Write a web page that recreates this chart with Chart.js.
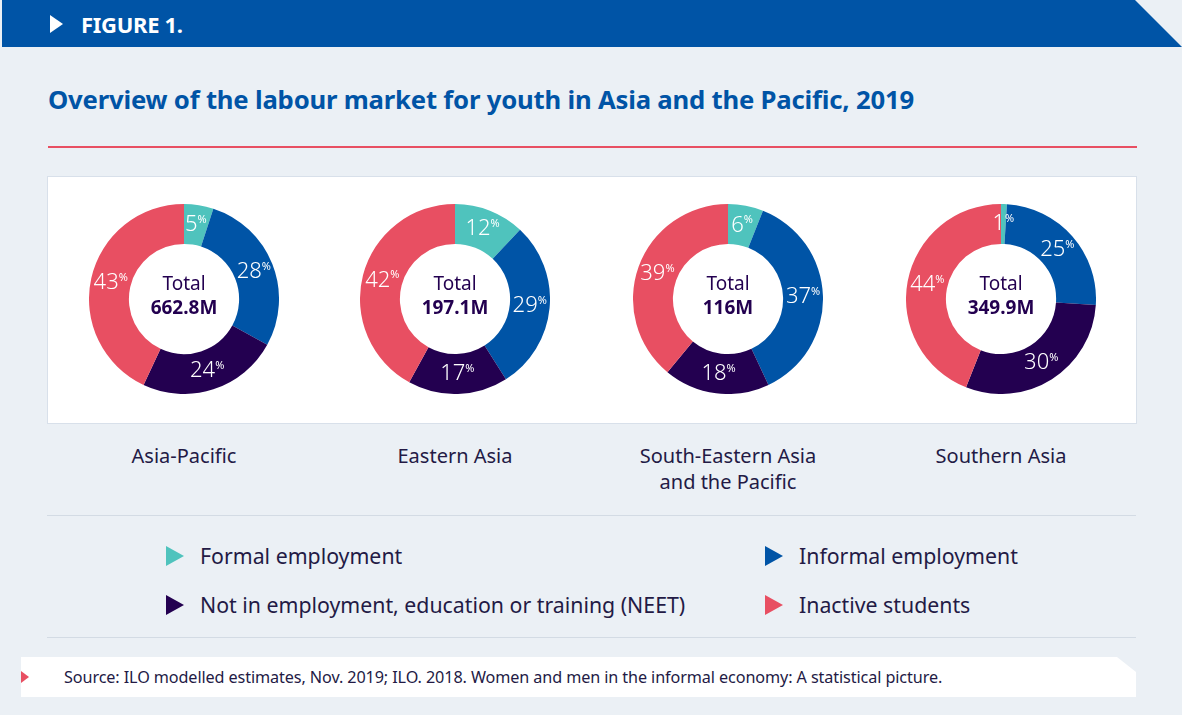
<!DOCTYPE html>
<html lang="en">
<head>
<meta charset="UTF-8">
<title>Overview of the labour market for youth in Asia and the Pacific, 2019</title>
<script src="https://cdn.jsdelivr.net/npm/chart.js"></script>
<style>
  body { margin: 0; width: 1182px; height: 715px; background: #ebf0f5; font-family: "Noto Sans", "Open Sans", sans-serif; position: relative; overflow: hidden; }
  .bar { position: absolute; left: 2px; top: 0; width: 1180px; height: 47px; background: #0054a6; clip-path: polygon(0 0, 1133px 0, 1180px 47px, 0 47px); }
  .bar .tri { position: absolute; left: 48px; top: 15px; width: 0; height: 0; border-top: 9px solid transparent; border-bottom: 9px solid transparent; border-left: 13px solid #fff; }
  .bar .txt { position: absolute; left: 79px; top: 9px; color: #fff; font-weight: bold; font-size: 22px; letter-spacing: -0.3px; }
  h1 { position: absolute; left: 48px; top: 82px; margin: 0; font-size: 25.7px; color: #0054a6; font-weight: bold; letter-spacing: -0.2px; }
  .redline { position: absolute; left: 48px; top: 146px; width: 1089px; height: 2px; background: #e84f62; }
  .box { position: absolute; left: 47px; top: 176px; width: 1088px; height: 246px; background: #fff; border: 1px solid #d8e0ea; }
  .ch { position: absolute; top: 204px; width: 190px; height: 190px; }
  .region { position: absolute; top: 443px; width: 260px; text-align: center; font-size: 20px; color: #231a45; line-height: 26px; }
  .sep { position: absolute; left: 47px; width: 1089px; height: 1px; background: #d3dbe4; }
  .leg { position: absolute; font-size: 21.3px; color: #231a45; }
  .leg i { position: absolute; left: -34px; top: 5px; width: 0; height: 0; border-top: 10px solid transparent; border-bottom: 10px solid transparent; border-left: 18px solid; }
  .src { position: absolute; left: 21px; top: 657px; width: 1115px; height: 40px; background: #fff; clip-path: polygon(0 0, 1096px 0, 1115px 15px, 1115px 40px, 0 40px); }
  .src i { position: absolute; left: 0; top: 14px; width: 0; height: 0; border-top: 6px solid transparent; border-bottom: 6px solid transparent; border-left: 8px solid #e84f62; }
  .src span { position: absolute; left: 43px; top: 9px; font-size: 16.2px; color: #231a45; letter-spacing: -0.1px; }
</style>
</head>
<body>
<div class="bar"><div class="tri"></div><div class="txt">FIGURE 1.</div></div>
<h1>Overview of the labour market for youth in Asia and the Pacific, 2019</h1>
<div class="redline"></div>
<div class="box"></div>

<canvas class="ch" id="c0" style="left:89px"></canvas>
<canvas class="ch" id="c1" style="left:360px"></canvas>
<canvas class="ch" id="c2" style="left:633px"></canvas>
<canvas class="ch" id="c3" style="left:906px"></canvas>

<div class="region" style="left:54px">Asia-Pacific</div>
<div class="region" style="left:325px">Eastern Asia</div>
<div class="region" style="left:598px">South-Eastern Asia<br>and the Pacific</div>
<div class="region" style="left:871px">Southern Asia</div>

<div class="sep" style="top:515px"></div>
<div class="sep" style="top:637px"></div>

<div class="leg" style="left:200px; top:541px"><i style="border-left-color:#4fc3bd"></i>Formal employment</div>
<div class="leg" style="left:799px; top:541px"><i style="border-left-color:#0054a6"></i>Informal employment</div>
<div class="leg" style="left:200px; top:590px"><i style="border-left-color:#230050"></i>Not in employment, education or training (NEET)</div>
<div class="leg" style="left:799px; top:590px"><i style="border-left-color:#e84f62"></i>Inactive students</div>

<div class="src"><i></i><span>Source: ILO modelled estimates, Nov. 2019; ILO. 2018. Women and men in the informal economy: A statistical picture.</span></div>

<script>
  // categories, in drawing order (clockwise from 12 o'clock)
  const categories = ["Formal employment", "Informal employment", "Not in employment, education or training (NEET)", "Inactive students"];
  const colors = ["#4fc3bd", "#0054a6", "#230050", "#e84f62"];

  const regions = ["Asia-Pacific", "Eastern Asia", "South-Eastern Asia and the Pacific", "Southern Asia"];
  const totals = ["662.8M", "197.1M", "116M", "349.9M"];

  // shares in %
  const asiaPacific = [5, 28, 24, 43];
  const easternAsia = [12, 29, 17, 42];
  const southEasternAsia = [6, 37, 18, 39];
  const southernAsia = [1, 25, 30, 44];
  const shares = [asiaPacific, easternAsia, southEasternAsia, southernAsia];

  // draws the % labels on the arcs and the total in the hole
  const labelPlugin = {
    id: "labels",
    afterDatasetsDraw(chart, args, opts) {
      const ctx = chart.ctx;
      const meta = chart.getDatasetMeta(0);
      ctx.save();
      meta.data.forEach((arc, i) => {
        const v = chart.data.datasets[0].data[i];
        const mid = (arc.startAngle + arc.endAngle) / 2;
        const r = (arc.innerRadius + arc.outerRadius) / 2;
        const x = arc.x + Math.cos(mid) * r;
        const y = arc.y + Math.sin(mid) * r;
        ctx.font = "300 22px 'Noto Sans'";
        const nw = ctx.measureText(String(v)).width;
        ctx.font = "11px 'Noto Sans'";
        const pw = ctx.measureText("%").width;
        const x0 = x - (nw + pw) / 2;
        ctx.fillStyle = "#fff";
        ctx.textBaseline = "middle";
        ctx.textAlign = "left";
        ctx.font = "300 22px 'Noto Sans'";
        ctx.fillText(String(v), x0, y);
        ctx.font = "11px 'Noto Sans'";
        ctx.fillText("%", x0 + nw, y - 5);
      });
      const cx = meta.data[0].x, cy = meta.data[0].y;
      ctx.fillStyle = "#230050";
      ctx.textAlign = "center";
      ctx.font = "19px 'Noto Sans'";
      ctx.fillText("Total", cx, cy - 14);
      ctx.font = "bold 19px 'Noto Sans'";
      ctx.fillText(opts.total, cx, cy + 10);
      ctx.restore();
    }
  };

  shares.forEach((vals, k) => {
    new Chart(document.getElementById("c" + k), {
      type: "doughnut",
      data: {
        labels: categories,
        datasets: [{
          label: regions[k],
          data: vals,
          backgroundColor: colors,
          borderWidth: 0
        }]
      },
      options: {
        responsive: false,
        animation: false,
        cutout: "58%",
        plugins: {
          legend: { display: false },
          tooltip: { enabled: false },
          labels: { total: totals[k] }
        }
      },
      plugins: [labelPlugin]
    });
  });
</script>
</body>
</html>
